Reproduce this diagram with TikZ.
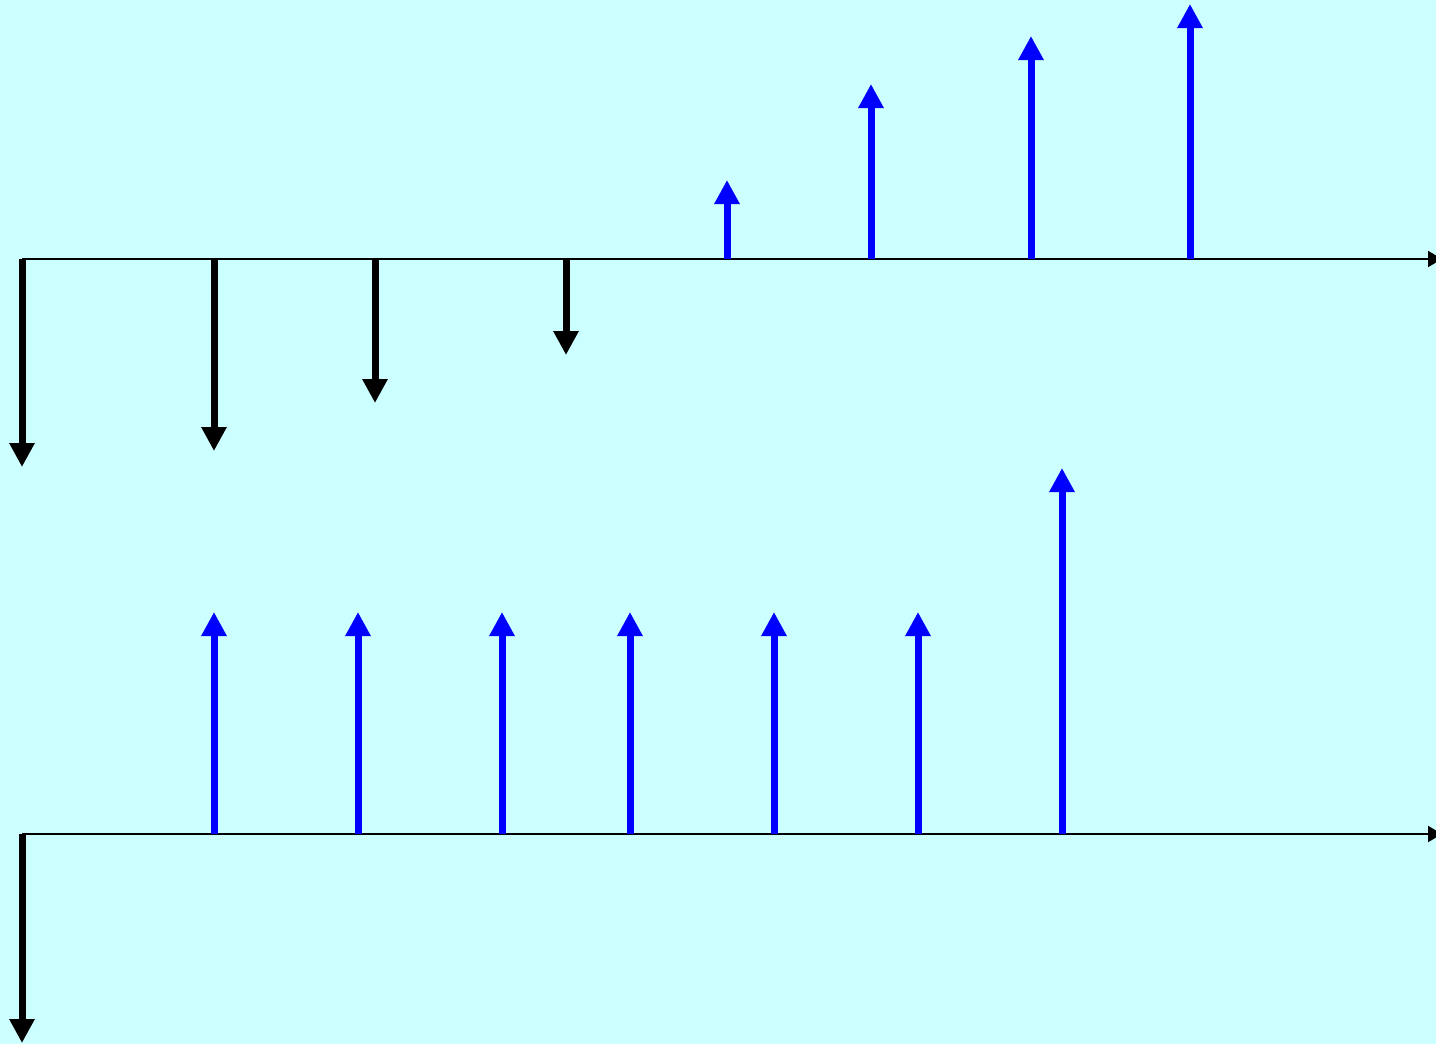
\documentclass[tikz,border=0pt]{standalone}
\usetikzlibrary{arrows.meta}
\definecolor{bgcyan}{HTML}{CCFFFF}
\begin{document}
\begin{tikzpicture}[x=0.5pt,y=-0.5pt,
  axisline/.style={line width=1pt,black,-{Triangle[length=7pt,width=8pt]}},
  outflow/.style={line width=3.5pt,black,-{Triangle[length=12pt,width=12pt]}},
  inflow/.style={line width=3.5pt,blue,-{Triangle[length=12pt,width=12pt]}}]
\fill[bgcyan] (0,0) rectangle (1436,1044);
\useasboundingbox (0,0) rectangle (1436,1044);
% top axis
\coordinate (a1s) at (22,259);
\coordinate (a1e) at (1442,259);
\draw[axisline] (a1s) -- (a1e);
\foreach \x/\t in {22/467,214/451,375/403,566/355}
  \draw[outflow] (\x,259) -- (\x,\t);
\foreach \x/\t in {727/180,871/84,1031/36,1190/4}
  \draw[inflow] (\x,259) -- (\x,\t);
% bottom axis
\coordinate (a2s) at (22,834);
\coordinate (a2e) at (1442,834);
\draw[axisline] (a2s) -- (a2e);
\draw[outflow] (22,834) -- (22,1043);
\foreach \x in {214,358,502,630,774,918}
  \draw[inflow] (\x,834) -- (\x,612);
\draw[inflow] (1062,834) -- (1062,468);
\end{tikzpicture}
\end{document}
